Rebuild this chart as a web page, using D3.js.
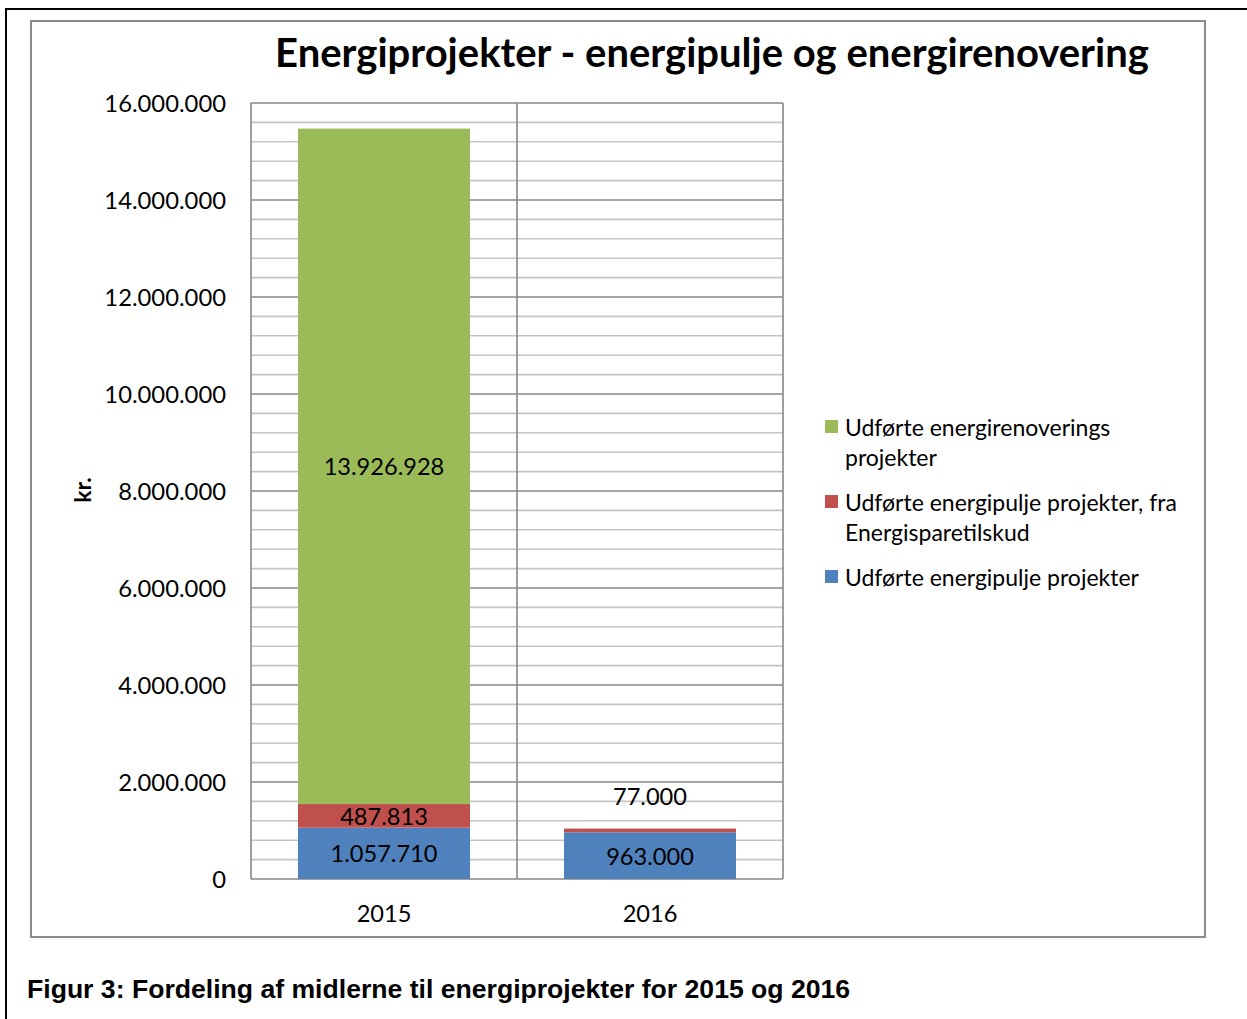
<!DOCTYPE html>
<html><head><meta charset="utf-8">
<script src="https://cdn.jsdelivr.net/npm/d3@7"></script>
<style>body{margin:0;background:#fff}svg{display:block}</style>
</head><body>
<svg id="c" width="1247" height="1019"></svg>
<script>
const categories = ["2015", "2016"];
const seriesNames = ["Udførte energipulje projekter", "Udførte energipulje projekter, fra Energisparetilskud", "Udførte energirenoverings projekter"];
const blueValues = [1057710, 963000];
const redValues = [487813, 77000];
const greenValues = [13926928, 0];
const yTicks = [0, 2000000, 4000000, 6000000, 8000000, 10000000, 12000000, 14000000, 16000000];
const title = "Energiprojekter - energipulje og energirenovering";
const caption = "Figur 3: Fordeling af midlerne til energiprojekter for 2015 og 2016";
const yLabel = "kr.";

const colors = ["#4F81BD", "#C0504D", "#9BBB59"];
const FONT = "Lato, 'Open Sans', sans-serif";
const svg = d3.select("#c");
const fmt = v => d3.format(",")(v).replace(/,/g, ".");

// frames
svg.append("rect").attr("x", 6).attr("y", 9).attr("width", 1260).attr("height", 1030)
  .attr("fill", "none").attr("stroke", "#000").attr("stroke-width", 2);
svg.append("rect").attr("x", 31).attr("y", 21).attr("width", 1174).attr("height", 916)
  .attr("fill", "#fff").attr("stroke", "#8c8c8c").attr("stroke-width", 2);

const L = 251, R = 783, T = 103, B = 879;
const y = d3.scaleLinear().domain([0, 16000000]).range([B, T]);
const x = d3.scaleBand().domain(categories).range([L, R]).paddingInner(0).paddingOuter(0);
const barFrac = 172 / 266;

// minor grid
const minor = d3.range(0, 16000001, 400000).filter(v => v % 2000000 !== 0);
svg.append("g").selectAll("line").data(minor).join("line")
  .attr("x1", L).attr("x2", R).attr("y1", d => y(d)).attr("y2", d => y(d))
  .attr("stroke", "#c4c4c4").attr("stroke-width", 1.6);
// major grid
svg.append("g").selectAll("line").data(yTicks).join("line")
  .attr("x1", L).attr("x2", R).attr("y1", d => y(d)).attr("y2", d => y(d))
  .attr("stroke", "#878787").attr("stroke-width", 1.6);
// vertical lines
const vx = [L, x("2016"), R];
svg.append("g").selectAll("line").data(vx).join("line")
  .attr("x1", d => d).attr("x2", d => d).attr("y1", T).attr("y2", B)
  .attr("stroke", "#878787").attr("stroke-width", 1.6);

// stacked data
const rows = categories.map((c, i) => ({cat: c, s0: blueValues[i], s1: redValues[i], s2: greenValues[i]}));
const stack = d3.stack().keys(["s0", "s1", "s2"])(rows);
const bw = x.bandwidth() * barFrac;
const off = (x.bandwidth() - bw) / 2;
stack.forEach((layer, k) => {
  svg.append("g").selectAll("rect").data(layer.filter(d => d[1] > d[0])).join("rect")
    .attr("x", d => x(d.data.cat) + off).attr("width", bw)
    .attr("y", d => y(d[1])).attr("height", d => y(d[0]) - y(d[1]))
    .attr("fill", colors[k]);
});
// data labels
stack.forEach((layer, k) => {
  layer.forEach(d => {
    const v = d[1] - d[0];
    if (v <= 0) return;
    let cy = (y(d[0]) + y(d[1])) / 2;
    if (y(d[0]) - y(d[1]) < 10) cy = y(d[1]) - 33;
    svg.append("text").attr("x", x(d.data.cat) + x.bandwidth() / 2).attr("y", cy)
      .attr("text-anchor", "middle").attr("dominant-baseline", "central")
      .attr("font-family", FONT).attr("font-size", 23.6).attr("fill", "#000").text(fmt(v));
  });
});

// y tick labels
svg.append("g").selectAll("text").data(yTicks).join("text")
  .attr("x", 226).attr("y", d => y(d)).attr("text-anchor", "end").attr("dominant-baseline", "central")
  .attr("font-family", FONT).attr("font-size", 23.8).text(d => fmt(d));
// x tick labels
svg.append("g").selectAll("text").data(categories).join("text")
  .attr("x", d => x(d) + x.bandwidth() / 2).attr("y", 913).attr("text-anchor", "middle")
  .attr("dominant-baseline", "central").attr("font-family", FONT).attr("font-size", 23.6).text(d => d);

// y label
svg.append("text").attr("transform", "translate(82,490) rotate(-90)").attr("text-anchor", "middle")
  .attr("dominant-baseline", "central").attr("font-family", FONT).attr("font-weight", "bold")
  .attr("font-size", 23).text(yLabel);

// title
svg.append("text").attr("x", 712).attr("y", 52).attr("text-anchor", "middle").attr("dominant-baseline", "central")
  .attr("font-family", FONT).attr("font-weight", "bold").attr("font-size", 40).text(title);

// legend
const legendItems = [
  {c: colors[2], lines: ["Udførte energirenoverings", "projekter"], y: 427},
  {c: colors[1], lines: ["Udførte energipulje projekter, fra", "Energisparetilskud"], y: 502},
  {c: colors[0], lines: ["Udførte energipulje projekter"], y: 577}
];
const lg = svg.append("g");
legendItems.forEach(it => {
  lg.append("rect").attr("x", 825).attr("y", it.y - 7).attr("width", 13).attr("height", 13).attr("fill", it.c);
  it.lines.forEach((t, j) => {
    lg.append("text").attr("x", 845).attr("y", it.y + j * 30).attr("dominant-baseline", "central")
      .attr("font-family", FONT).attr("font-size", 23).text(t);
  });
});

// caption
svg.append("text").attr("x", 27).attr("y", 989).attr("dominant-baseline", "central")
  .attr("font-family", "'Liberation Sans', Arial, sans-serif").attr("font-weight", "bold")
  .attr("font-size", 26.6).text(caption);
</script>
</body></html>
